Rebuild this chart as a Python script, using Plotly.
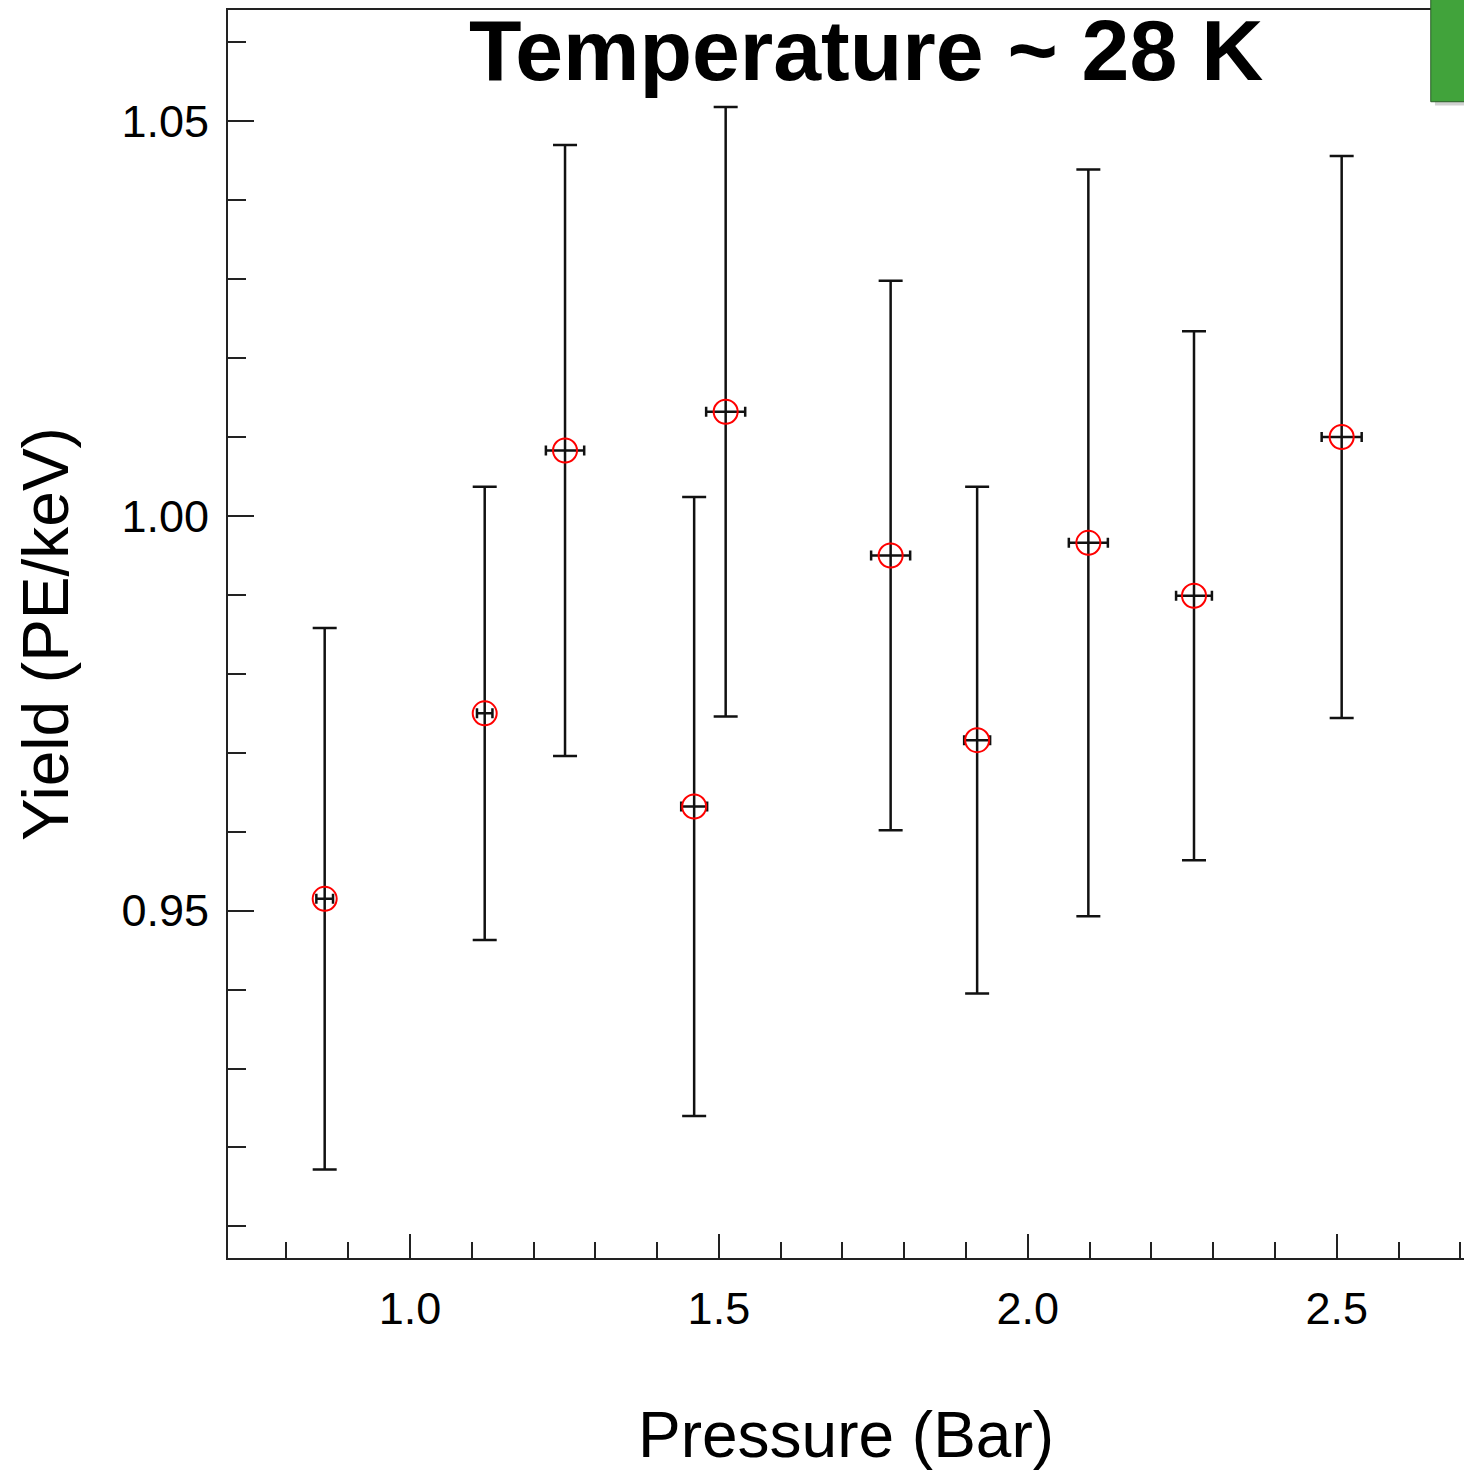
import plotly.graph_objects as go

# Data
pressure = [0.862, 1.121, 1.251, 1.460, 1.511, 1.778, 1.918, 2.098, 2.269, 2.508]
pressure_err = [0.0135, 0.0125, 0.031, 0.021, 0.0316, 0.0316, 0.021, 0.0316, 0.029, 0.0324]
yield_pe = [0.9515, 0.9750, 1.0083, 0.9632, 1.0132, 0.9950, 0.9716, 0.9966, 0.9899, 1.0100]
yield_err = [0.0343, 0.0287, 0.0387, 0.0392, 0.0386, 0.0348, 0.0321, 0.0473, 0.0335, 0.0356]

title_text = "Temperature ~ 28 K"
x_title = "Pressure (Bar)"
y_title = "Yield (PE/keV)"
x_ticks = [1.0, 1.5, 2.0, 2.5]
x_ticklabels = ["1.0", "1.5", "2.0", "2.5"]
y_ticks = [0.95, 1.00, 1.05]
y_ticklabels = ["0.95", "1.00", "1.05"]

W, H = 1464, 1471
ML, MR, MT, MB = 228, 0, 10, 213

fig = go.Figure()
fig.add_trace(go.Scatter(
    x=pressure, y=yield_pe, mode="markers",
    marker=dict(symbol="circle-open", size=24, color="red", line=dict(width=2, color="red")),
    error_y=dict(type="data", array=yield_err, visible=True, color="#111111", thickness=2.5, width=12),
    error_x=dict(type="data", array=pressure_err, visible=True, color="#111111", thickness=2.5, width=5),
    showlegend=False,
))

font_family = "Liberation Sans, Arial, Helvetica, sans-serif"

fig.update_layout(
    width=W, height=H,
    margin=dict(l=ML, r=MR, t=MT, b=MB, pad=0),
    paper_bgcolor="white", plot_bgcolor="white",
    font=dict(family=font_family, color="black"),
    xaxis=dict(
        range=[0.7055, 2.706], showgrid=False, zeroline=False,
        showline=True, linecolor="#222222", linewidth=2, mirror=True,
        ticks="inside", ticklen=24, tickwidth=2, tickcolor="#222222",
        tickvals=x_ticks, ticktext=x_ticklabels,
        tickfont=dict(size=45, family=font_family, color="black"),
        ticklabelstandoff=10,
        minor=dict(ticks="inside", ticklen=16, tickwidth=2, tickcolor="#222222", dtick=0.1, tick0=0, showgrid=False),
        title=dict(text=x_title, font=dict(size=64, family=font_family, color="black"), standoff=79),
    ),
    yaxis=dict(
        range=[0.906, 1.0641], showgrid=False, zeroline=False,
        showline=True, linecolor="#222222", linewidth=2, mirror=False,
        ticks="inside", ticklen=26, tickwidth=2, tickcolor="#222222",
        tickvals=y_ticks, ticktext=y_ticklabels,
        tickfont=dict(size=45, family=font_family, color="black"),
        ticklabelstandoff=8,
        minor=dict(ticks="inside", ticklen=18, tickwidth=2, tickcolor="#222222", dtick=0.01, tick0=0, showgrid=False),
        title=dict(text=y_title, font=dict(size=64, family=font_family, color="black"), standoff=32),
    ),
    annotations=[dict(
        text=title_text, xref="paper", yref="paper", x=0.516, y=0.968,
        xanchor="center", yanchor="middle", showarrow=False,
        font=dict(size=86, family=font_family, color="black", weight="bold"),
    )],
    shapes=[
        dict(type="rect", xref="paper", yref="paper", x0=0.9765, x1=1.02, y0=0.9235, y1=1.02,
             fillcolor="rgba(0,0,0,0.18)", line=dict(width=0), layer="above"),
        dict(type="rect", xref="paper", yref="paper", x0=0.9731, x1=1.02, y0=0.9265, y1=1.02,
             fillcolor="#41A33B", line=dict(width=1, color="#2b5e28"), layer="above"),
    ],
)

fig.write_html(
    "out.html",
    config={"displayModeBar": False},
    post_script="document.body.style.margin='0px';document.body.style.overflow='hidden';",
)
